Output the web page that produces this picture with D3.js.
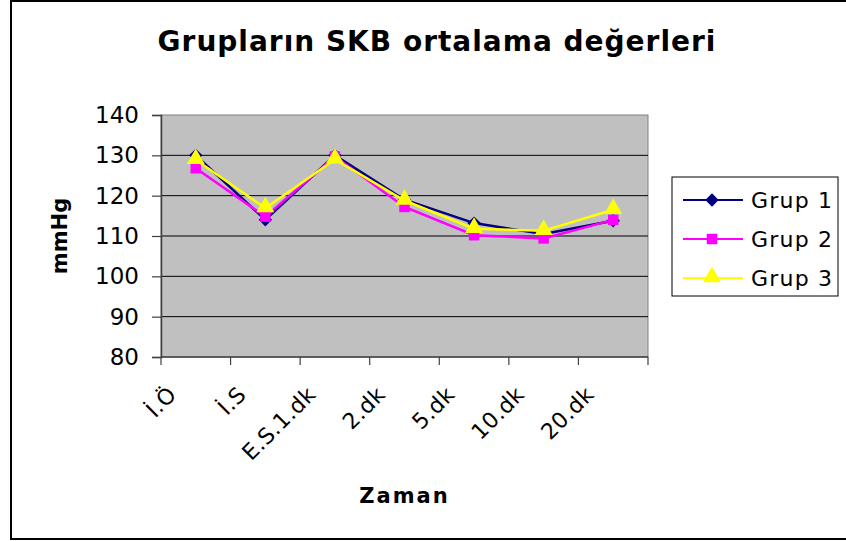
<!DOCTYPE html>
<html>
<head>
<meta charset="utf-8">
<script src="https://cdn.jsdelivr.net/npm/d3@7.9.0/dist/d3.min.js"></script>
<style>
  body { margin: 0; background: #fff; }
  text { font-family: "DejaVu Sans", "Liberation Sans", sans-serif; }
</style>
</head>
<body>
<div id="chart"></div>
<script>
// data
const categories = ["İ.Ö", "İ.S", "E.S.1.dk", "2.dk", "5.dk", "10.dk", "20.dk"];
const grup1 = [130.0, 114.0, 130.0, 119.0, 113.2, 110.5, 113.8];
const grup2 = [126.8, 114.8, 129.7, 117.2, 110.2, 109.4, 114.0];
const grup3 = [128.9, 116.9, 129.0, 118.8, 111.8, 111.3, 116.5];
const yTicks = [80, 90, 100, 110, 120, 130, 140];

const series = [
  { name: "Grup 1", values: grup1, color: "#000080", marker: "diamond" },
  { name: "Grup 2", values: grup2, color: "#FF00FF", marker: "square" },
  { name: "Grup 3", values: grup3, color: "#FFFF00", marker: "triangle" }
];

const width = 846, height = 541;
const plot = { left: 161, right: 648, top: 115, bottom: 357 };

const svg = d3.select("#chart").append("svg")
  .attr("width", width)
  .attr("height", height);

// outer frame
svg.append("rect")
  .attr("x", 11).attr("y", 1)
  .attr("width", 860).attr("height", 538)
  .attr("fill", "#fff")
  .attr("stroke", "#000")
  .attr("stroke-width", 2);

const x = d3.scaleBand().domain(categories).range([plot.left, plot.right]);
const y = d3.scaleLinear().domain([80, 140]).range([plot.bottom, plot.top]);

// plot area
svg.append("rect")
  .attr("x", plot.left).attr("y", plot.top)
  .attr("width", plot.right - plot.left).attr("height", plot.bottom - plot.top)
  .attr("fill", "#C0C0C0")
  .attr("stroke", "#808080")
  .attr("stroke-width", 1);

// gridlines
svg.append("g")
  .selectAll("line")
  .data(yTicks.filter(d => d > 80 && d < 140))
  .enter().append("line")
  .attr("x1", plot.left).attr("x2", plot.right)
  .attr("y1", d => y(d)).attr("y2", d => y(d))
  .attr("stroke", "#000")
  .attr("stroke-width", 1);

// y axis
const yAxis = svg.append("g")
  .attr("transform", `translate(${plot.left},0)`)
  .call(d3.axisLeft(y).tickValues(yTicks).tickSize(9).tickPadding(13));
yAxis.select(".domain").attr("stroke", "#404040").attr("stroke-width", 1.5);
yAxis.selectAll(".tick line").attr("stroke", "#404040").attr("stroke-width", 1.2);
yAxis.selectAll(".tick text")
  .attr("font-size", 23)
  .attr("fill", "#000");

// x axis: ticks at category boundaries
const xAxis = svg.append("g")
  .attr("transform", `translate(0,${plot.bottom})`);
xAxis.append("line")
  .attr("x1", plot.left).attr("x2", plot.right)
  .attr("stroke", "#404040").attr("stroke-width", 1.5);
const bounds = categories.map(c => x(c)).concat([plot.right]);
xAxis.selectAll(".xt")
  .data(bounds)
  .enter().append("line")
  .attr("class", "xt")
  .attr("x1", d => d).attr("x2", d => d)
  .attr("y1", 0).attr("y2", 8)
  .attr("stroke", "#404040").attr("stroke-width", 1.2);
xAxis.selectAll(".xl")
  .data(categories)
  .enter().append("text")
  .attr("class", "xl")
  .attr("text-anchor", "end")
  .attr("font-size", 22)
  .attr("letter-spacing", 0.4)
  .attr("transform", d => `translate(${x(d) + x.bandwidth() / 2 - 18},${39}) rotate(-45)`)
  .text(d => d);

// titles
svg.append("text")
  .attr("x", 437).attr("y", 51)
  .attr("text-anchor", "middle")
  .attr("font-size", 28)
  .attr("font-weight", "bold")
  .attr("letter-spacing", 1)
  .text("Grupların SKB ortalama değerleri");

svg.append("text")
  .attr("x", (plot.left + plot.right) / 2).attr("y", 503)
  .attr("text-anchor", "middle")
  .attr("font-size", 21)
  .attr("font-weight", "bold")
  .attr("letter-spacing", 2)
  .text("Zaman");

svg.append("text")
  .attr("transform", "translate(67,236) rotate(-90)")
  .attr("text-anchor", "middle")
  .attr("font-size", 21)
  .attr("font-weight", "bold")
  .text("mmHg");

// lines and markers
const line = d3.line()
  .x((d, i) => x(categories[i]) + x.bandwidth() / 2)
  .y(d => y(d));

function markerPath(kind) {
  if (kind === "diamond") return d3.symbol().type(d3.symbolSquare).size(90)();
  if (kind === "square") return d3.symbol().type(d3.symbolSquare).size(110)();
  return d3.symbol().type(d3.symbolTriangle).size(140)();
}
function markerTransform(kind, px, py) {
  if (kind === "diamond") return `translate(${px},${py}) rotate(45)`;
  if (kind === "triangle") return `translate(${px},${py - 1})`;
  return `translate(${px},${py})`;
}

const gSeries = svg.append("g")
  .selectAll("g")
  .data(series)
  .enter().append("g");

gSeries.append("path")
  .attr("d", d => line(d.values))
  .attr("fill", "none")
  .attr("stroke", d => d.color)
  .attr("stroke-width", 2.5);

gSeries.each(function(s) {
  d3.select(this).selectAll(".m")
    .data(s.values)
    .enter().append("path")
    .attr("class", "m")
    .attr("d", markerPath(s.marker))
    .attr("transform", (d, i) => markerTransform(s.marker, x(categories[i]) + x.bandwidth() / 2, y(d)))
    .attr("fill", s.color);
});

// legend
const legend = svg.append("g");
legend.append("rect")
  .attr("x", 672).attr("y", 177)
  .attr("width", 166).attr("height", 119)
  .attr("fill", "#fff")
  .attr("stroke", "#000")
  .attr("stroke-width", 1);

const rows = legend.selectAll(".row")
  .data(series)
  .enter().append("g")
  .attr("class", "row")
  .attr("transform", (d, i) => `translate(0,${200 + i * 39})`);
rows.append("line")
  .attr("x1", 683).attr("x2", 743)
  .attr("stroke", d => d.color)
  .attr("stroke-width", 2);
rows.append("path")
  .attr("d", d => markerPath(d.marker))
  .attr("transform", d => markerTransform(d.marker, 712, 0))
  .attr("fill", d => d.color);
rows.append("text")
  .attr("x", 751).attr("y", 8)
  .attr("font-size", 22)
  .attr("letter-spacing", 1.2)
  .text(d => d.name);
</script>
</body>
</html>
